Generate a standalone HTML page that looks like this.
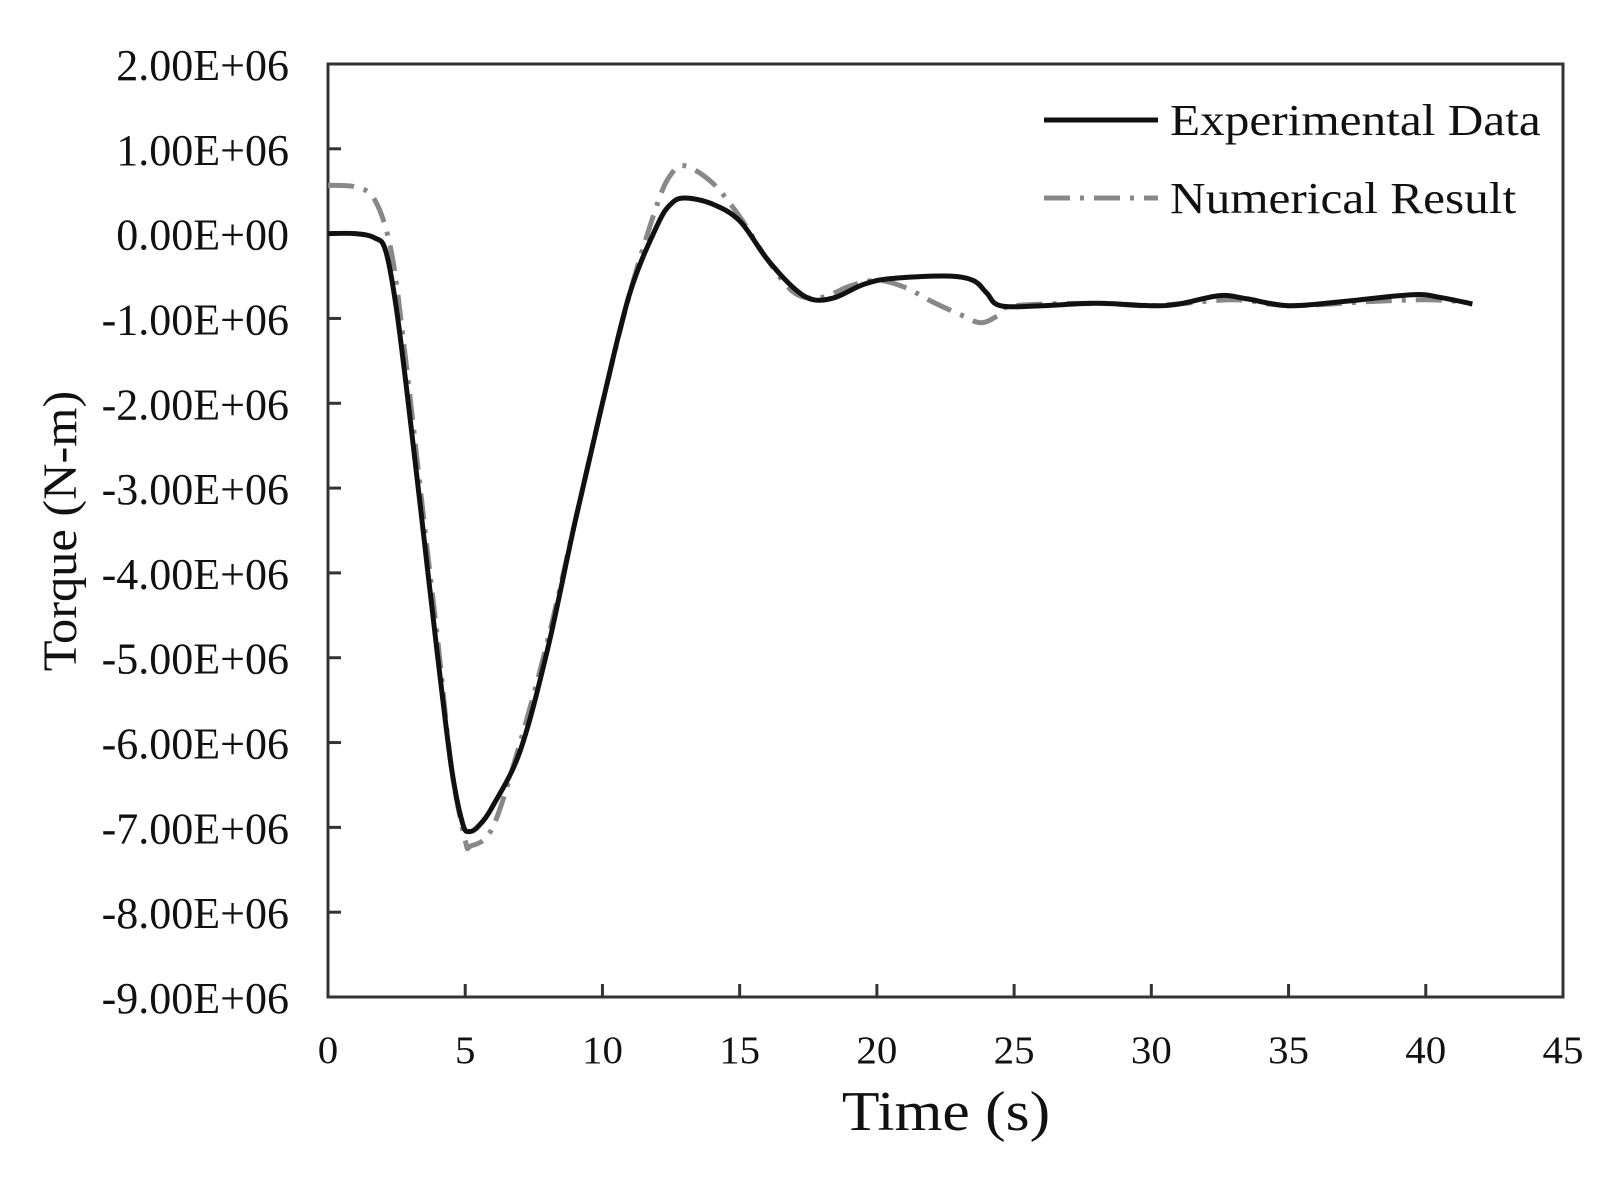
<!DOCTYPE html>
<html><head><meta charset="utf-8"><style>
html,body{margin:0;padding:0;background:#fff;}
svg{display:block;font-family:"Liberation Serif",serif;}
</style></head><body>
<svg id="chart" width="1617" height="1183" viewBox="0 0 1617 1183">
<rect x="0" y="0" width="1617" height="1183" fill="#fff"/>
<g id="axes"></g>
<g id="series"></g>
<g id="legend">
<line x1="1044" y1="120" x2="1158" y2="120" stroke="#111" stroke-width="5"/>
<text transform="translate(1170,135) scale(1.12,1)" font-size="44" fill="#111">Experimental Data</text>
<line x1="1044" y1="198" x2="1158" y2="198" stroke="#888" stroke-width="5" stroke-dasharray="26,10,4,10"/>
<text transform="translate(1170,213) scale(1.12,1)" font-size="44" fill="#111">Numerical Result</text>
</g>
<text transform="translate(946,1130) scale(1.1,1)" font-size="56" text-anchor="middle" fill="#111">Time (s)</text>
<text transform="translate(76,531) rotate(-90) scale(1.05,1)" font-size="48" text-anchor="middle" fill="#111">Torque (N-m)</text>
</svg>
<script>
const xTicks=[0,5,10,15,20,25,30,35,40,45];
const yTicks=[2,1,0,-1,-2,-3,-4,-5,-6,-7,-8,-9];
const yTickLabels=["2.00E+06","1.00E+06","0.00E+00","-1.00E+06","-2.00E+06","-3.00E+06","-4.00E+06","-5.00E+06","-6.00E+06","-7.00E+06","-8.00E+06","-9.00E+06"];
const expT=[0,1,1.7,2.1,2.5,3,3.5,4,4.5,4.9,5.15,5.5,6,7,8,9,10,11,12,12.5,13,14,15,16,17,17.7,18.5,19.5,20.5,22.5,23.5,24,24.5,26,28,30,31,32.5,33.5,35,37,39.5,40.5,41.7];
const expV=[0,0,-0.05,-0.2,-0.9,-2.2,-3.6,-5.0,-6.3,-6.95,-7.05,-6.98,-6.75,-6.1,-4.9,-3.4,-2.0,-0.7,0.1,0.35,0.42,0.35,0.15,-0.3,-0.65,-0.78,-0.75,-0.6,-0.53,-0.5,-0.55,-0.7,-0.85,-0.85,-0.82,-0.85,-0.83,-0.73,-0.77,-0.85,-0.8,-0.72,-0.75,-0.83];
const numT=[0,1,1.7,2.3,2.8,3.5,4,4.5,5,5.2,6,7,8,9,10,11,12,12.5,13,14,15,16,17,18,19,20,21,22,23,23.8,24.5,25,28,30,33,35,38,40,41.3];
const numV=[0.57,0.55,0.4,-0.2,-1.4,-3.4,-4.8,-6.3,-7.15,-7.22,-7.0,-6.0,-4.8,-3.4,-2.0,-0.7,0.35,0.7,0.8,0.6,0.2,-0.3,-0.7,-0.75,-0.62,-0.55,-0.63,-0.8,-0.95,-1.05,-0.95,-0.85,-0.82,-0.85,-0.78,-0.85,-0.8,-0.78,-0.8];
const L=328,R=1563,T=64,B=997,xMin=0,xMax=45,yMax=2,yMin=-9;
function sx(v){return L+(v-xMin)/(xMax-xMin)*(R-L);}
function sy(v){return T+(yMax-v)/(yMax-yMin)*(B-T);}
const NS="http://www.w3.org/2000/svg";
function mk(tag,attrs,parent){const e=document.createElementNS(NS,tag);for(const k in attrs)e.setAttribute(k,attrs[k]);parent.appendChild(e);return e;}
const axes=document.getElementById('axes');
let frame=mk('rect',{x:L,y:T,width:R-L,height:B-T,fill:'none',stroke:'#333','stroke-width':3},axes);


xTicks.forEach(t=>{
  let ln=mk('line',{x1:sx(t),x2:sx(t),y1:B,y2:B-13,stroke:'#333','stroke-width':3},axes);
  
  
  let tx=mk('text',{transform:'translate('+sx(t)+',1063) scale(1.05,1)','font-size':39,'text-anchor':'middle',fill:'#111'},axes);
  tx.textContent=String(t);
  
  
});
yTicks.forEach((t,i)=>{
  let ln=mk('line',{x1:L,x2:L+13,y1:sy(t),y2:sy(t),stroke:'#333','stroke-width':3},axes);
  
  
  let tx=mk('text',{x:289,y:sy(t)+16,'font-size':44,'text-anchor':'end',fill:'#111'},axes);
  tx.textContent=yTickLabels[i];
  
  
});
function smooth(ts,vs){
  const p=ts.map((t,i)=>[sx(t),sy(vs[i])]);
  let d='M'+p[0][0].toFixed(1)+','+p[0][1].toFixed(1);
  for(let i=0;i<p.length-1;i++){
    const p0=p[Math.max(0,i-1)],p1=p[i],p2=p[i+1],p3=p[Math.min(p.length-1,i+2)];
    const c1=[p1[0]+(p2[0]-p0[0])/6,p1[1]+(p2[1]-p0[1])/6];
    const c2=[p2[0]-(p3[0]-p1[0])/6,p2[1]-(p3[1]-p1[1])/6];
    d+=' C'+c1[0].toFixed(1)+','+c1[1].toFixed(1)+' '+c2[0].toFixed(1)+','+c2[1].toFixed(1)+' '+p2[0].toFixed(1)+','+p2[1].toFixed(1);
  }
  return d;
}
const series=document.getElementById('series');
let num=mk('path',{d:smooth(numT,numV),fill:'none',stroke:'#888','stroke-width':5,'stroke-dasharray':'26,10,4,10'},series);


let exp=mk('path',{d:smooth(expT,expV),fill:'none',stroke:'#111','stroke-width':5},series);


</script>
</body></html>
